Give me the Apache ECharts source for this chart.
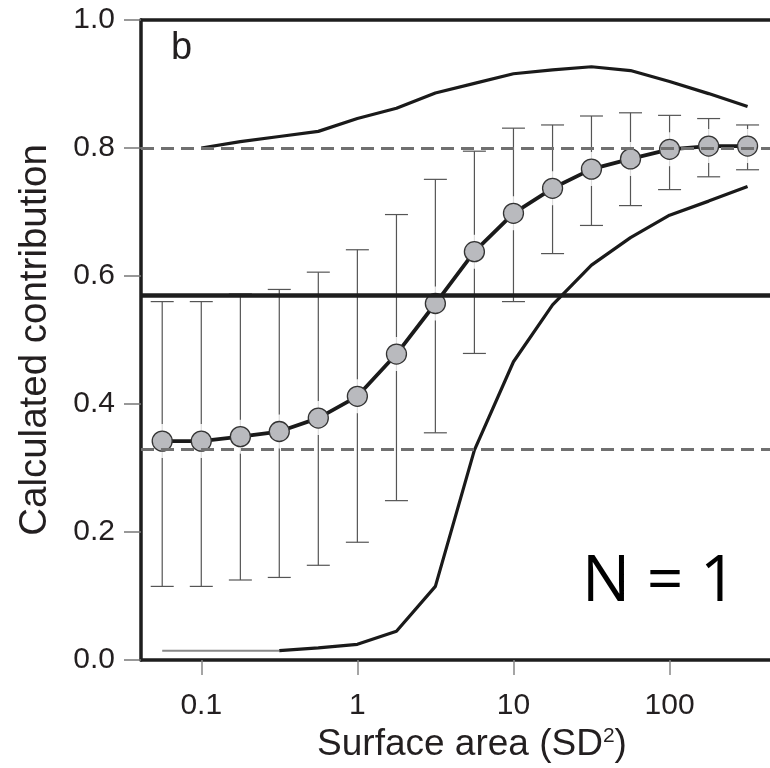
<!DOCTYPE html>
<html>
<head>
<meta charset="utf-8">
<script src="https://cdn.jsdelivr.net/npm/echarts@6/dist/echarts.min.js"></script>
<style>html,body{margin:0;padding:0;background:#fff}#c{width:770px;height:768px}</style>
</head>
<body>
<div id="c"></div>
<script>
// ---- data ----
const xVals   = [0.0562, 0.1, 0.178, 0.316, 0.562, 1, 1.78, 3.16, 5.62, 10, 17.8, 31.6, 56.2, 100, 178, 316];
const meanVals= [0.342, 0.342, 0.349, 0.357, 0.378, 0.412, 0.478, 0.557, 0.638, 0.698, 0.737, 0.767, 0.783, 0.798, 0.803, 0.803];
const errHigh = [0.560, 0.560, 0.572, 0.579, 0.606, 0.641, 0.696, 0.751, 0.795, 0.831, 0.836, 0.850, 0.855, 0.851, 0.846, 0.836];
const errLow  = [0.115, 0.115, 0.125, 0.129, 0.148, 0.184, 0.249, 0.355, 0.479, 0.560, 0.635, 0.679, 0.710, 0.735, 0.755, 0.766];

const upperX  = [0.1, 0.178, 0.316, 0.562, 1, 1.78, 3.16, 5.62, 10, 17.8, 31.6, 56.2, 100, 178, 316];
const upperY  = [0.800, 0.810, 0.818, 0.826, 0.846, 0.862, 0.886, 0.901, 0.916, 0.922, 0.927, 0.921, 0.904, 0.885, 0.865];

const lowerThinX = [0.0562, 0.316];
const lowerThinY = [0.0145, 0.0145];
const lowerX  = [0.316, 0.562, 1, 1.78, 3.16, 5.62, 10, 17.8, 31.6, 56.2, 100, 178, 316];
const lowerY  = [0.0145, 0.019, 0.0245, 0.045, 0.115, 0.328, 0.466, 0.555, 0.617, 0.660, 0.695, 0.717, 0.740];

const dashedLevels = [0.802, 0.3333];
const thickLevel = 0.575;

const xTickValues = [0.1, 1, 10, 100];
const xMin = 0.0411, xMax = 440;

// ---- chart ----
const FONT = '"Liberation Sans", Arial, sans-serif';
const TXT = '#231f20';
const zip = (a, b) => a.map((v, i) => [v, b[i]]);

const chart = echarts.init(document.getElementById('c'), null, {renderer: 'canvas'});
chart.setOption({
  animation: false,
  backgroundColor: '#fff',
  grid: {left: 141, top: 20, right: 0, bottom: 108, containLabel: false},
  xAxis: [{
    type: 'log', logBase: 10, min: xMin, max: xMax,
    axisLine: {show: true, lineStyle: {color: '#1e1e1e', width: 3.5}},
    axisTick: {show: true, length: 15, customValues: xTickValues, lineStyle: {color: '#888', width: 1.5}},
    axisLabel: {show: true, customValues: xTickValues, margin: 31, fontSize: 30, fontFamily: FONT, color: TXT,
      formatter: v => String(v)},
    splitLine: {show: false}, minorTick: {show: false},
    name: 'Surface area (SD{sup|2})', nameLocation: 'middle', nameGap: 65,
    nameTextStyle: {fontSize: 37, fontFamily: FONT, color: TXT, padding: [0, 0, 0, 33],
      rich: {sup: {fontSize: 21, fontFamily: FONT, color: TXT, verticalAlign: 'top'}}}
  }, {
    type: 'log', logBase: 10, min: xMin, max: xMax, position: 'top',
    axisLine: {show: true, lineStyle: {color: '#1e1e1e', width: 3.5}},
    axisTick: {show: false}, axisLabel: {show: false}, splitLine: {show: false}
  }],
  yAxis: {
    type: 'value', min: 0, max: 1, interval: 0.2,
    axisLine: {show: true, lineStyle: {color: '#1e1e1e', width: 3.5}},
    axisTick: {show: true, length: 17, lineStyle: {color: '#777', width: 1.5}},
    axisLabel: {margin: 26, fontSize: 30, fontFamily: FONT, color: TXT, formatter: v => v.toFixed(1)},
    splitLine: {show: false},
    name: 'Calculated contribution', nameLocation: 'middle', nameGap: 86,
    nameTextStyle: {fontSize: 38.5, fontFamily: FONT, color: TXT}
  },
  series: [
    {
      type: 'custom', name: 'err', z: 1, silent: true,
      data: xVals.map((x, i) => [x, errLow[i], errHigh[i]]),
      renderItem: (params, api) => {
        const lo = api.coord([api.value(0), api.value(1)]);
        const hi = api.coord([api.value(0), api.value(2)]);
        const w = 11.5;
        const st = {stroke: '#555', lineWidth: 1.2};
        return {type: 'group', children: [
          {type: 'line', shape: {x1: lo[0], y1: lo[1], x2: hi[0], y2: hi[1]}, style: st},
          {type: 'line', shape: {x1: lo[0] - w, y1: lo[1], x2: lo[0] + w, y2: lo[1]}, style: st},
          {type: 'line', shape: {x1: hi[0] - w, y1: hi[1], x2: hi[0] + w, y2: hi[1]}, style: st}
        ]};
      }
    },
    {
      type: 'scatter', name: 'halo', z: 2, silent: true,
      data: zip(xVals, meanVals), symbol: 'circle', symbolSize: 34,
      itemStyle: {color: '#fff', borderWidth: 0}
    },
    {
      type: 'line', name: 'upper', z: 3, silent: true,
      data: zip(upperX, upperY), showSymbol: false, symbol: 'none',
      lineStyle: {color: '#1a1a1a', width: 3.2},
      markLine: {
        silent: true, symbol: ['none', 'none'], label: {show: false},
        data: [
          {yAxis: dashedLevels[0], lineStyle: {color: '#707070', width: 3.2, type: [13, 7]}},
          {yAxis: dashedLevels[1], lineStyle: {color: '#707070', width: 3.2, type: [13, 7]}},
          {yAxis: thickLevel, lineStyle: {color: '#1e1e1e', width: 4.5, type: 'solid'}}
        ]
      }
    },
    {
      type: 'line', name: 'lowerThin', z: 3, silent: true,
      data: zip(lowerThinX, lowerThinY), showSymbol: false, symbol: 'none',
      lineStyle: {color: '#888', width: 2}
    },
    {
      type: 'line', name: 'lower', z: 3, silent: true,
      data: zip(lowerX, lowerY), showSymbol: false, symbol: 'none',
      lineStyle: {color: '#1a1a1a', width: 3.2}
    },
    {
      type: 'line', name: 'mean', z: 4, silent: true,
      data: zip(xVals, meanVals), symbol: 'circle', symbolSize: 20, showSymbol: true,
      lineStyle: {color: '#1a1a1a', width: 3.8},
      itemStyle: {color: '#b9babe', borderColor: '#333', borderWidth: 1.3}
    }
  ],
  graphic: [
    {type: 'text', left: 171, top: 30, style: {text: 'b', fontSize: 38, fontFamily: FONT, fill: TXT}},
    {type: 'text', left: 582, top: 551, style: {text: 'N = 1', fontSize: 64, fontFamily: '"Open Sans", "Noto Sans", sans-serif', fill: '#000'}}
  ]
});
</script>
</body>
</html>
